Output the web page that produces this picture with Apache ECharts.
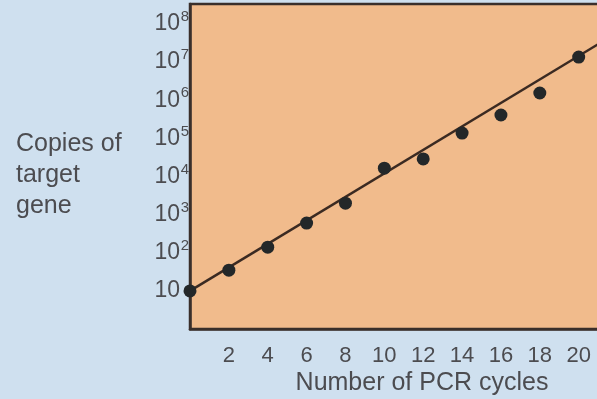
<!DOCTYPE html>
<html>
<head>
<meta charset="utf-8">
<script src="https://cdn.jsdelivr.net/npm/echarts@6/dist/echarts.min.js"></script>
<style>
html,body{margin:0;padding:0;background:#cfe0ef;}
#chart{width:597px;height:399px;}
</style>
</head>
<body>
<div id="chart"></div>
<script>
// PCR cycles (x) and measured copies of target gene (y)
var cycles = [0, 2, 4, 6, 8, 10, 12, 14, 16, 18, 20];
var copies = [10, 35, 140, 600, 2000, 16500, 29000, 138000, 410000, 1550000, 13600000];
// fitted exponential line: endpoints
var lineCycles = [0, 21.2];
var lineCopies = [10, 34000000];
var yTickExponents = [1, 2, 3, 4, 5, 6, 7, 8];

var points = cycles.map(function (c, i) { return [c, copies[i]]; });
var linePts = lineCycles.map(function (c, i) { return [c, lineCopies[i]]; });

var chart = echarts.init(document.getElementById('chart'), null, {renderer: 'canvas'});
var txt = '#4c4c50';
chart.setOption({
  backgroundColor: '#cfe0ef',
  animation: false,
  grid: {
    left: 190, top: 4, width: 412, height: 325,
    outerBoundsMode: 'none', containLabel: false,
    show: true, backgroundColor: '#f1bb8c',
    borderColor: '#3a2f2b', borderWidth: 2.5
  },
  xAxis: {
    type: 'value', min: 0, max: 21.2, interval: 2,
    axisLine: {show: true, lineStyle: {color: '#3a2f2b', width: 2.5}},
    axisTick: {show: false},
    splitLine: {show: false},
    axisLabel: {
      color: txt, fontSize: 22, fontFamily: 'Liberation Sans', margin: 16,
      showMaxLabel: false,
      formatter: function (v) { return (v === 0 || v % 2 !== 0) ? '' : String(v); }
    }
  },
  yAxis: {
    type: 'log', logBase: 10, min: 1, max: 3.35e8,
    axisLine: {show: true, lineStyle: {color: '#3a2f2b', width: 2.5}},
    axisTick: {show: false},
    splitLine: {show: false},
    axisLabel: {
      margin: 1, fontFamily: 'Liberation Sans',
      formatter: function (v) {
        var e = Math.round(Math.log10(v));
        if (Math.abs(Math.log10(v) - e) > 1e-6) return '';
        if (yTickExponents.indexOf(e) < 0) return '';
        if (e === 1) return '{b|10}{s| }';
        return '{b|10}{s|' + e + '}';
      },
      rich: {
        b: {fontSize: 23, color: txt, fontFamily: 'Liberation Sans', lineHeight: 24},
        s: {fontSize: 15, color: txt, fontFamily: 'Liberation Sans', width: 9, padding: [0, 0, 14, 0], verticalAlign: 'bottom'}
      }
    }
  },
  graphic: [
    {type: 'text', left: 16, top: 129, style: {text: 'Copies of\ntarget\ngene', fontSize: 25, lineHeight: 31, fill: txt, fontFamily: 'Liberation Sans'}},
    {type: 'text', x: 422, y: 383, style: {text: 'Number of PCR cycles', fontSize: 25, fill: txt, fontFamily: 'Liberation Sans', align: 'center', verticalAlign: 'middle'}}
  ],
  series: [
    {
      type: 'line', data: linePts, symbol: 'none', silent: true,
      lineStyle: {color: '#3b2a22', width: 2.5}, z: 2
    },
    {
      type: 'scatter', data: points, symbolSize: 13,
      itemStyle: {color: '#232729', opacity: 1}, z: 3
    }
  ]
});
</script>
</body>
</html>
